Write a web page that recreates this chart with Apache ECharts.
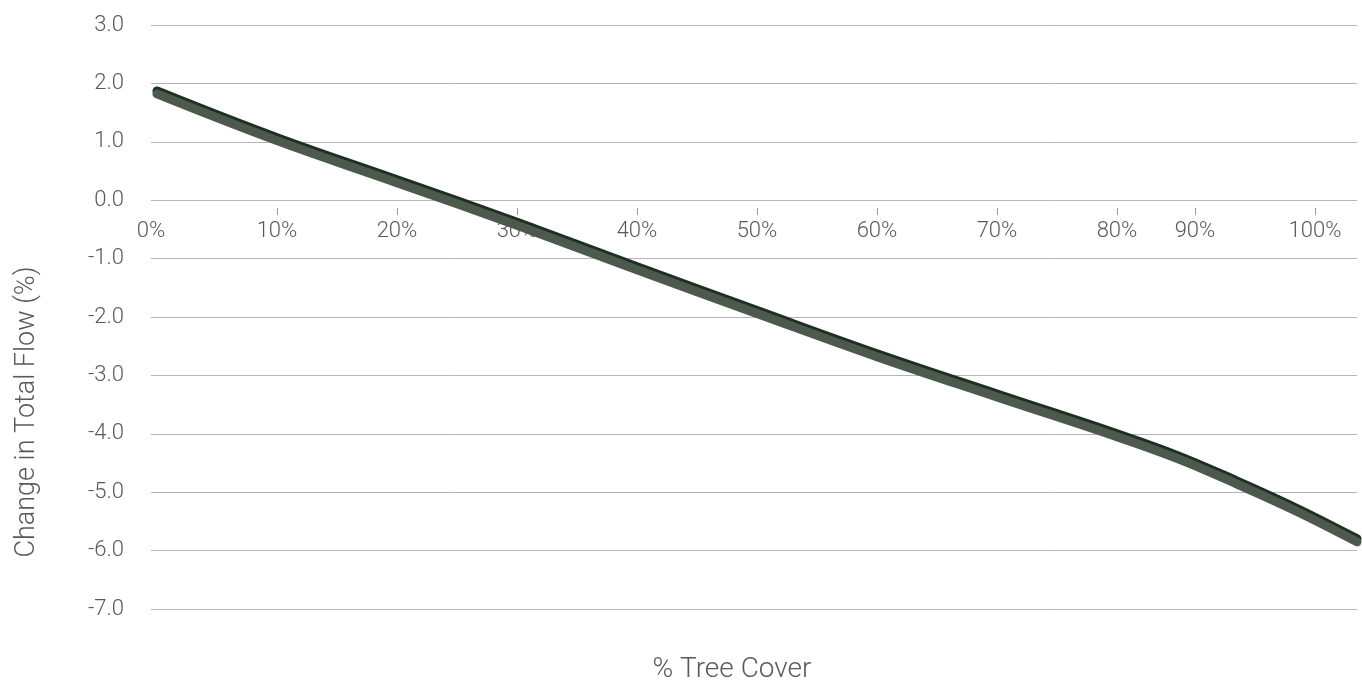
<!DOCTYPE html>
<html><head><meta charset="utf-8">
<script src="https://cdn.jsdelivr.net/npm/echarts@6/dist/echarts.min.js"></script>
<style>html,body{margin:0;padding:0;background:#fff}#c{width:1362px;height:686px}</style>
</head><body><div id="c"></div>
<script>
const treeCover = [0, 10, 20, 30, 40, 50, 60, 70, 80, 85, 90, 95, 100];
const flowChange = [1.82, 1.02, 0.30, -0.43, -1.19, -1.94, -2.68, -3.37, -4.05, -4.42, -4.86, -5.33, -5.85];
const xTickValues = [-0.5, 10, 20, 30, 40, 50, 60, 70, 80, 86.5, 96.5];
const xTickLabels = ['0%', '10%', '20%', '30%', '40%', '50%', '60%', '70%', '80%', '90%', '100%'];
const yTitle = 'Change in Total Flow (%)';
const xTitle = '% Tree Cover';

const chart = echarts.init(document.getElementById('c'));
const font = 'Roboto, "Liberation Sans", sans-serif';
const textColor = '#595959';
chart.setOption({
  backgroundColor: '#fff',
  animation: false,
  grid: { left: 151, top: 25, width: 1206, height: 584, containLabel: false, outerBoundsMode: 'none' },
  xAxis: {
    type: 'value', min: -0.5, max: 100, position: 'top', offset: -183,
    axisLine: { show: false, onZero: false },
    splitLine: { show: false },
    axisTick: { show: true, inside: true, length: 7, lineStyle: { color: '#9a9a9a', width: 1 },
      customValues: xTickValues.slice(1) },
    axisLabel: { inside: true, margin: 12, color: textColor, fontFamily: font, fontWeight: 300, fontSize: 22,
      customValues: xTickValues,
      formatter: v => { const i = xTickValues.indexOf(v); return i >= 0 ? xTickLabels[i] : ''; } }
  },
  yAxis: {
    type: 'value', min: -7, max: 3, interval: 1,
    axisLine: { show: false }, axisTick: { show: false },
    splitLine: { show: true, lineStyle: { color: '#b5b5b5', width: 1 } },
    axisLabel: { margin: 27, color: textColor, fontFamily: font, fontWeight: 300, fontSize: 22,
      formatter: v => v.toFixed(1) }
  },
  graphic: [
    { type: 'text', x: 27, y: 412, rotation: Math.PI / 2,
      style: { text: yTitle, fill: textColor, font: '300 27px ' + font, textAlign: 'center', textVerticalAlign: 'middle' } },
    { type: 'text', x: 732, y: 670,
      style: { text: xTitle, fill: textColor, font: '300 28px ' + font, textAlign: 'center', textVerticalAlign: 'middle' } }
  ],
  series: [{
    type: 'line', data: treeCover.map((x, i) => [x, flowChange[i]]),
    showSymbol: false, smooth: 0.4, clip: false,
    lineStyle: { width: 9, color: '#4b5a4c', cap: 'round', join: 'round',
      shadowColor: '#1d2f22', shadowBlur: 0, shadowOffsetX: 0, shadowOffsetY: -3 }
  }]
});
</script></body></html>
